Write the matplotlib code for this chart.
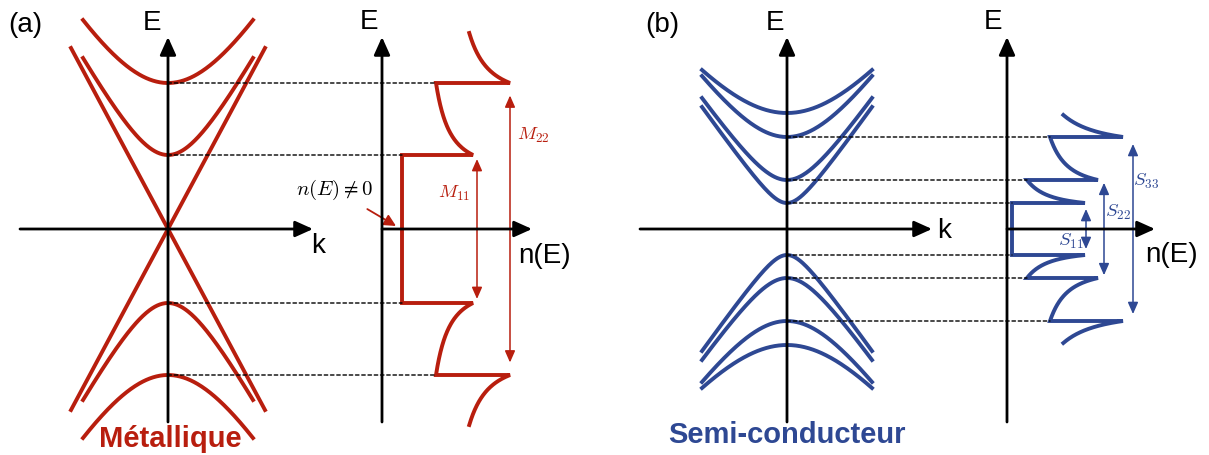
import numpy as np
import matplotlib.pyplot as plt
from matplotlib.patches import ConnectionPatch

plt.rcParams['font.family'] = ['Liberation Sans', 'DejaVu Sans']
plt.rcParams['mathtext.fontset'] = 'cm'

RED = '#B81E0E'
BLUE = '#2E4893'

# ---- data (schematic units) ----
k_max = 8.5                      # k range of the subbands
# (a) metallic tube: subband edges and energy reached at k_max
metal_edges = [7.4, 14.6]
metal_edge_ends = [17.1, 20.9]
dirac_k = 9.7                    # linear bands crossing at k=0
dirac_E = 18.1
# (a) density of states
metal_dos_base = 2.0
metal_peaks = [9.1, 12.8]
metal_floors = [5.4, 8.2]
metal_top = 19.6
metal_labels = ['$M_{11}$', '$M_{22}$']

# (b) semiconducting tube
semi_edges = [2.6, 4.9, 9.2, 11.6]
semi_edge_ends = [12.2, 13.1, 15.3, 15.9]
# (b) density of states (first three van Hove singularities)
semi_dos_base = 0.5
semi_peaks = [7.8, 9.1, 11.6]
semi_floors = [2.0, 4.3, 4.0]
semi_top = 11.4
semi_labels = ['$S_{11}$', '$S_{22}$', '$S_{33}$']

# ---- layout (10 px per unit) ----
W, H, Y0 = 1209, 455, 229
SCALE = 10.0
fig = plt.figure(figsize=(W / 100, H / 100), dpi=100)


def panel(left, right, origin):
    ax = fig.add_axes([left / W, 0, (right - left) / W, 1])
    ax.set_xlim((left - origin) / SCALE, (right - origin) / SCALE)
    ax.set_ylim(-(H - Y0) / SCALE, Y0 / SCALE)
    ax.axis('off')
    return ax


def axis_arrow(ax, start, tip):
    ax.annotate('', xy=tip, xytext=start, zorder=5,
                arrowprops=dict(arrowstyle='-|>,head_length=0.6,head_width=0.27',
                                lw=2.0, color='k', shrinkA=0, shrinkB=0,
                                mutation_scale=18))


def double_arrow(ax, x, e, color, shrink):
    ax.annotate('', xy=(x, e), xytext=(x, -e), zorder=4,
                arrowprops=dict(arrowstyle='<|-|>,head_length=0.5,head_width=0.22',
                                lw=1.1, color=color, shrinkA=shrink, shrinkB=shrink,
                                mutation_scale=14))


def band(edge, end, k):
    return np.sqrt(edge ** 2 + (end ** 2 - edge ** 2) * (k / k_max) ** 2)


def dos_curve(base, vhs, peaks, floors, top, a=0.22):
    n, e = [base], [0.0]
    norm = 1 / np.sqrt(a) - 1 / np.sqrt(1 + a)
    for i, ev in enumerate(vhs):
        last = i == len(vhs) - 1
        span = (ev - vhs[i - 1]) if last else (vhs[i + 1] - ev)
        stop = top if last else vhs[i + 1]
        t = np.linspace(0, (stop - ev) / span, 80)
        f = (1 / np.sqrt(t + a) - 1 / np.sqrt(1 + a)) / norm
        n += [n[-1]] + list(floors[i] + (peaks[i] - floors[i]) * f)
        e += [ev] + list(ev + t * span)
    n, e = np.array(n), np.array(e)
    return np.concatenate([n[::-1], n]), np.concatenate([-e[::-1], e])


def dotted(ax_band, ax_dos, e, n):
    for s in (1, -1):
        fig.add_artist(ConnectionPatch(xyA=(0, s * e), coordsA=ax_band.transData,
                                       xyB=(n, s * e), coordsB=ax_dos.transData,
                                       color='k', lw=1.0, ls=(0, (2.5, 2.0)), zorder=1))


k = np.linspace(-k_max, k_max, 200)
E_lo, E_hi = -19.3, 19.2

# ---- (a) metallic band structure ----
ax = panel(0, 330, 168)
kd = np.linspace(-dirac_k, dirac_k, 2)
ax.plot(kd, dirac_E / dirac_k * kd, color=RED, lw=2.8)
ax.plot(kd, -dirac_E / dirac_k * kd, color=RED, lw=2.8)
for e0, e1 in zip(metal_edges, metal_edge_ends):
    ax.plot(k, band(e0, e1, k), color=RED, lw=2.8)
    ax.plot(k, -band(e0, e1, k), color=RED, lw=2.8)
axis_arrow(ax, (-14.8, 0), (14.5, 0))
axis_arrow(ax, (0, E_lo), (0, E_hi))
ax.text(-14.3, 20.4, '(a)', fontsize=20, ha='center', va='center')
ax.text(-1.6, 20.6, 'E', fontsize=20, ha='center', va='center')
ax.text(15.0, -1.7, 'k', fontsize=20, ha='center', va='center')
ax.text(0.2, -21.8, 'Métallique', fontsize=21, fontweight='bold', color=RED,
        ha='center', va='baseline')
ax_band_a = ax

# ---- (a) density of states ----
ax = panel(330, 600, 382)
n, e = dos_curve(metal_dos_base, metal_edges, metal_peaks, metal_floors, metal_top)
ax.plot(n, e, color=RED, lw=2.8, solid_joinstyle='miter')
axis_arrow(ax, (0, 0), (15.0, 0))
axis_arrow(ax, (0, E_lo), (0, E_hi))
ax.text(-1.3, 20.7, 'E', fontsize=20, ha='center', va='center')
ax.text(16.3, -2.7, 'n(E)', fontsize=20, ha='center', va='center')
corners = [metal_dos_base] + metal_floors
for i, e0 in enumerate(metal_edges):
    dotted(ax_band_a, ax, e0, corners[i])
double_arrow(ax, 9.5, metal_edges[0], RED, 2.9)
double_arrow(ax, 12.8, metal_edges[1], RED, 9.0)
ax.text(7.2, 3.6, metal_labels[0], fontsize=13.5, color=RED, ha='center', va='center')
ax.text(15.1, 9.4, metal_labels[1], fontsize=13.5, color=RED, ha='center', va='center')
ax.annotate('$n(E) \\neq 0$', xy=(1.4, 0.3), xytext=(-4.7, 3.9), fontsize=15,
            ha='center', va='center',
            arrowprops=dict(arrowstyle='-|>,head_length=0.5,head_width=0.25',
                            color=RED, lw=1.3, shrinkA=6, shrinkB=0, mutation_scale=14))

# ---- (b) semiconducting band structure ----
ax = panel(600, 960, 787)
for e0, e1 in zip(semi_edges, semi_edge_ends):
    ax.plot(k, band(e0, e1, k), color=BLUE, lw=2.8)
    ax.plot(k, -band(e0, e1, k), color=BLUE, lw=2.8)
axis_arrow(ax, (-14.7, 0), (14.5, 0))
axis_arrow(ax, (0, E_lo), (0, E_hi))
ax.text(-12.5, 20.4, '(b)', fontsize=20, ha='center', va='center')
ax.text(-1.2, 20.6, 'E', fontsize=20, ha='center', va='center')
ax.text(15.7, -0.2, 'k', fontsize=20, ha='center', va='center')
ax.text(0.0, -21.4, 'Semi-conducteur', fontsize=21, fontweight='bold', color=BLUE,
        ha='center', va='baseline')
ax_band_b = ax

# ---- (b) density of states ----
ax = panel(960, 1209, 1007)
vhs = semi_edges[:3]
n, e = dos_curve(semi_dos_base, vhs, semi_peaks, semi_floors, semi_top)
ax.plot(n, e, color=BLUE, lw=2.8, solid_joinstyle='miter')
axis_arrow(ax, (0, 0), (14.8, 0))
axis_arrow(ax, (0, E_lo), (0, E_hi))
ax.text(-1.4, 20.7, 'E', fontsize=20, ha='center', va='center')
ax.text(16.5, -2.6, 'n(E)', fontsize=20, ha='center', va='center')
corners = [semi_dos_base] + semi_floors
for i, e0 in enumerate(vhs):
    dotted(ax_band_b, ax, e0, corners[i])
for x, e0, shrink in zip([7.9, 9.7, 12.6], vhs, [4.3, 2.0, 5.0]):
    double_arrow(ax, x, e0, BLUE, shrink)
for (tx, ty), lab in zip([(6.4, -1.2), (11.1, 1.7), (13.9, 4.8)], semi_labels):
    ax.text(tx, ty, lab, fontsize=13.5, color=BLUE, ha='center', va='center')

fig.savefig('out.png', dpi=100)
